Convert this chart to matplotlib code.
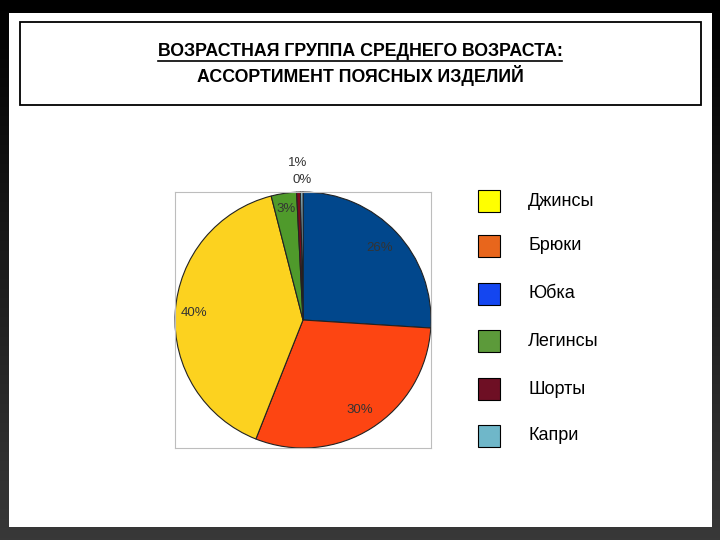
import numpy as np
import matplotlib
matplotlib.use('Agg')
import matplotlib.pyplot as plt
from matplotlib.patches import Rectangle
from matplotlib.lines import Line2D

## Data
slice_names = ['Юбка', 'Брюки', 'Джинсы', 'Легинсы', 'Шорты', 'Капри']
slice_values = [26, 30, 40, 3.2, 0.5, 0.3]
slice_labels = ['26%', '30%', '40%', '3%', '1%', '0%']
slice_colors = ['#01478c', '#fd4512', '#fcd21f', '#4f9a2b', '#7a0a1c', '#9ecfe2']
label_dist = [0.82, 0.83, 0.85, 0.88, 1.23, 1.09]

legend_names = ['Джинсы', 'Брюки', 'Юбка', 'Легинсы', 'Шорты', 'Капри']
legend_colors = ['#ffff00', '#e8661c', '#1446f0', '#5c9a3a', '#6e0f24', '#6fb7c9']

title_lines = ['ВОЗРАСТНАЯ ГРУППА СРЕДНЕГО ВОЗРАСТА:',
               'АССОРТИМЕНТ ПОЯСНЫХ ИЗДЕЛИЙ']

W, H = 720, 540
fig = plt.figure(figsize=(W/100, H/100), dpi=100)

## Dark frame with vertical gradient
bg = fig.add_axes([0, 0, 1, 1])
grad = np.linspace(0.0, 0.22, 256).reshape(-1, 1)
bg.imshow(np.dstack([grad, grad, grad]), aspect='auto', extent=[0, W, H, 0])
bg.set_xlim(0, W)
bg.set_ylim(H, 0)
bg.axis('off')
bg.add_patch(Rectangle((9, 13), 703, 514, facecolor='white', edgecolor='none'))
bg.add_patch(Rectangle((19.5, 21.5), 681, 83, facecolor='none',
                       edgecolor='black', linewidth=1.3))

t1 = bg.text(360, 52, title_lines[0], ha='center', va='center',
             fontsize=12.8, fontweight='bold', family='Liberation Sans')
bg.text(360, 76, title_lines[1], ha='center', va='center',
        fontsize=12.8, fontweight='bold', family='Liberation Sans')
fig.canvas.draw()
bb = t1.get_window_extent().transformed(bg.transData.inverted())
bg.add_line(Line2D([bb.x0, bb.x1], [61, 61], color='black', linewidth=1.2))

## Pie
ax = fig.add_axes([175/W, 1 - 448/H, 256/W, 256/H])
wedges, _ = ax.pie(slice_values, colors=slice_colors, startangle=90,
                   counterclock=False, radius=1,
                   wedgeprops=dict(edgecolor='#222222', linewidth=0.8))
for w, lab, d in zip(wedges, slice_labels, label_dist):
    mid = np.deg2rad((w.theta1 + w.theta2)/2)
    ax.text(d*np.cos(mid), d*np.sin(mid), lab, ha='center', va='center',
            fontsize=9.5, color='#333333', family='Liberation Sans', clip_on=False)
ax.set_xlim(-1.0, 1.0)
ax.set_ylim(-1.0, 1.0)
ax.set_aspect('auto')
ax.set_xticks([])
ax.set_yticks([])
ax.set_frame_on(True)
for s in ax.spines.values():
    s.set_color('#bdbdbd')
    s.set_linewidth(0.8)

## Legend
legend_y = [201, 246, 294, 341, 389, 436]
for name, col, y in zip(legend_names, legend_colors, legend_y):
    bg.add_patch(Rectangle((478, y - 11), 22, 22, facecolor=col,
                           edgecolor='black', linewidth=0.8))
    bg.text(528, y, name, ha='left', va='center', fontsize=13,
            family='Liberation Sans')

fig.savefig('out.png', dpi=100)
